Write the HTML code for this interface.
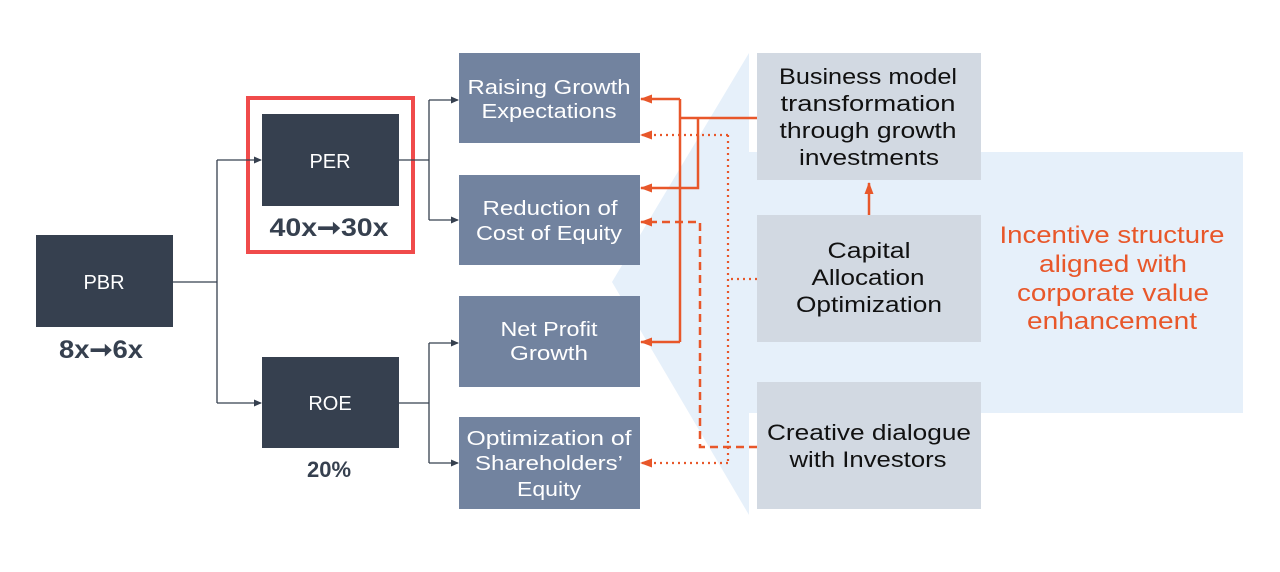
<!DOCTYPE html>
<html><head><meta charset="utf-8"><style>
body{margin:0;background:#fff;}
svg text{font-family:"Liberation Sans",sans-serif;}
</style></head><body>
<svg width="1280" height="567" viewBox="0 0 1280 567" xmlns="http://www.w3.org/2000/svg">
<defs>
<marker id="ag" markerWidth="8" markerHeight="8" refX="7" refY="4" orient="auto" markerUnits="userSpaceOnUse"><path d="M0,0.5 L8,4 L0,7.5z" fill="#36404f"/></marker>
<marker id="ao" markerWidth="12" markerHeight="10" refX="11" refY="5" orient="auto" markerUnits="userSpaceOnUse"><path d="M0,0.5 L12,5 L0,9.5z" fill="#e8572a"/></marker>
</defs>
<polygon points="612,282 749,53 749,152 1243,152 1243,413 749,413 749,515" fill="#e6f0fa"/>
<rect x="36" y="235" width="137" height="92" fill="#36404f"/>
<text x="104" y="289" fill="#fff" font-size="20" text-anchor="middle">PBR</text>
<text x="101" y="358" fill="#36404f" font-size="25" font-weight="bold" text-anchor="middle" textLength="84" lengthAdjust="spacingAndGlyphs">8x➞6x</text>
<rect x="248" y="98" width="165" height="154" fill="none" stroke="#f04b4b" stroke-width="4"/>
<rect x="262" y="114" width="137" height="92" fill="#36404f"/>
<text x="330" y="168" fill="#fff" font-size="20" text-anchor="middle">PER</text>
<text x="329" y="236" fill="#36404f" font-size="25" font-weight="bold" text-anchor="middle" textLength="119" lengthAdjust="spacingAndGlyphs">40x➞30x</text>
<rect x="262" y="357" width="137" height="91" fill="#36404f"/>
<text x="330" y="410" fill="#fff" font-size="20" text-anchor="middle">ROE</text>
<text x="329" y="477" fill="#36404f" font-size="22" font-weight="bold" text-anchor="middle">20%</text>
<g stroke="#36404f" stroke-width="1.3" fill="none">
<path d="M173,282 H217"/><path d="M217,160 V403"/>
<path d="M217,160 H261" marker-end="url(#ag)"/><path d="M217,403 H261" marker-end="url(#ag)"/>
<path d="M399,160 H429"/><path d="M429,100 V220"/>
<path d="M429,100 H458" marker-end="url(#ag)"/><path d="M429,220 H458" marker-end="url(#ag)"/>
<path d="M399,403 H429"/><path d="M429,343 V463"/>
<path d="M429,343 H458" marker-end="url(#ag)"/><path d="M429,463 H458" marker-end="url(#ag)"/>
</g>
<g fill="#72839f"><rect x="459" y="53" width="181" height="90"/><rect x="459" y="175" width="181" height="90"/><rect x="459" y="296" width="181" height="91"/><rect x="459" y="417" width="181" height="92"/></g>
<g fill="#fff" font-size="20" text-anchor="middle" lengthAdjust="spacingAndGlyphs">
<text x="549" y="94" textLength="163" lengthAdjust="spacingAndGlyphs">Raising Growth</text><text x="549" y="118" textLength="135" lengthAdjust="spacingAndGlyphs">Expectations</text>
<text x="550" y="215" textLength="135" lengthAdjust="spacingAndGlyphs">Reduction of</text><text x="549" y="240" textLength="146" lengthAdjust="spacingAndGlyphs">Cost of Equity</text>
<text x="549" y="336" textLength="97" lengthAdjust="spacingAndGlyphs">Net Profit</text><text x="549" y="360" textLength="78" lengthAdjust="spacingAndGlyphs">Growth</text>
<text x="549" y="445" textLength="165" lengthAdjust="spacingAndGlyphs">Optimization of</text><text x="549" y="470" textLength="148" lengthAdjust="spacingAndGlyphs">Shareholders’</text><text x="549" y="496" textLength="64" lengthAdjust="spacingAndGlyphs">Equity</text>
</g>
<g fill="#d2d9e2"><rect x="757" y="53" width="224" height="127"/><rect x="757" y="215" width="224" height="127"/><rect x="757" y="382" width="224" height="127"/></g>
<g fill="#111" font-size="22" text-anchor="middle">
<text x="868" y="84" textLength="178" lengthAdjust="spacingAndGlyphs">Business model</text><text x="868" y="111" textLength="175" lengthAdjust="spacingAndGlyphs">transformation</text><text x="868" y="138" textLength="177" lengthAdjust="spacingAndGlyphs">through growth</text><text x="869" y="165" textLength="140" lengthAdjust="spacingAndGlyphs">investments</text>
<text x="869" y="258" textLength="83" lengthAdjust="spacingAndGlyphs">Capital</text><text x="868" y="285" textLength="113" lengthAdjust="spacingAndGlyphs">Allocation</text><text x="869" y="312" textLength="146" lengthAdjust="spacingAndGlyphs">Optimization</text>
<text x="869" y="440" textLength="204" lengthAdjust="spacingAndGlyphs">Creative dialogue</text><text x="868" y="467" textLength="157" lengthAdjust="spacingAndGlyphs">with Investors</text>
</g>
<g fill="#e8572a" font-size="24" text-anchor="middle">
<text x="1112" y="243" textLength="225" lengthAdjust="spacingAndGlyphs">Incentive structure</text><text x="1113" y="272" textLength="148" lengthAdjust="spacingAndGlyphs">aligned with</text><text x="1113" y="301" textLength="192" lengthAdjust="spacingAndGlyphs">corporate value</text><text x="1112" y="329" textLength="170" lengthAdjust="spacingAndGlyphs">enhancement</text>
</g>
<g stroke="#e8572a" stroke-width="2.5" fill="none">
<path d="M757,118 H680"/><path d="M680,99 V342"/>
<path d="M680,99 H641" marker-end="url(#ao)"/><path d="M680,342 H641" marker-end="url(#ao)"/>
<path d="M698,118 V188 H641" marker-end="url(#ao)"/>
<path d="M869,215 V183" marker-end="url(#ao)"/>
</g>
<g stroke="#e8572a" stroke-width="2.5" fill="none" stroke-dasharray="8,5">
<path d="M757,447 H700 V222 H641" marker-end="url(#ao)"/>
</g>
<g stroke="#e8572a" stroke-width="2.2" fill="none" stroke-dasharray="2,4">
<path d="M757,279 H728"/>
<path d="M728,135 V463"/>
<path d="M728,135 H641" marker-end="url(#ao)"/>
<path d="M728,463 H641" marker-end="url(#ao)"/>
</g>
</svg>
</body></html>
